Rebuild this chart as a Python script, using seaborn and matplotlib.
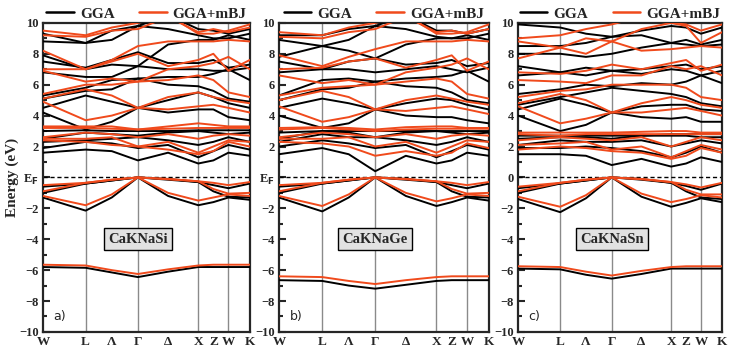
import matplotlib
matplotlib.use("Agg")
import matplotlib.pyplot as plt
from matplotlib.lines import Line2D
from matplotlib.ticker import MultipleLocator
import numpy as np
import pandas as pd
import seaborn as sns

# k-path W-L-Γ-X-W-K (lengths in 2π/a), with Λ, Δ, Z midpoints
k_points = [0.0, 0.707, 1.140, 1.573, 2.073, 2.573, 2.823, 3.073, 3.427]
k_labels = ["W", "L", "Λ", "Γ", "Δ", "X", "Z", "W", "K"]
k_lines = [0.707, 1.573, 2.573, 3.073]

compounds = ["CaKNaSi", "CaKNaGe", "CaKNaSn"]
panel_tags = ["a)", "b)", "c)"]

# ---- CaKNaSi ----
si_gga = [
    [-5.8, -5.85, -6.15, -6.45, -6.1, -5.8, -5.8, -5.8, -5.8],
    [-1.3, -2.15, -1.3, 0.0, -1.2, -1.8, -1.6, -1.3, -1.45],
    [-1.0, -0.4, -0.2, 0.0, -0.15, -0.3, -0.9, -1.25, -1.3],
    [-0.6, -0.4, -0.2, 0.0, -0.1, -0.3, -0.5, -0.7, -0.4],
    [1.6, 1.8, 1.7, 1.1, 1.6, 0.9, 1.1, 1.6, 1.4],
    [1.9, 2.3, 2.2, 1.9, 2.1, 1.3, 1.7, 2.1, 1.8],
    [2.3, 2.4, 2.5, 2.6, 2.4, 2.1, 2.3, 2.6, 2.3],
    [2.5, 2.9, 2.8, 2.7, 2.9, 3.0, 2.9, 2.8, 2.9],
    [3.0, 3.05, 3.0, 3.0, 3.0, 3.05, 3.05, 3.05, 3.05],
    [4.2, 3.1, 3.6, 4.5, 4.2, 4.4, 4.4, 3.9, 3.7],
    [4.5, 5.3, 4.9, 4.5, 5.0, 5.5, 5.2, 4.8, 4.5],
    [5.1, 5.6, 5.7, 6.4, 6.0, 5.9, 5.6, 5.1, 4.9],
    [5.3, 5.8, 6.3, 6.4, 6.5, 6.5, 6.7, 7.0, 6.3],
    [6.8, 6.5, 6.5, 7.2, 7.0, 7.0, 6.9, 6.9, 7.1],
    [7.5, 7.1, 7.6, 8.1, 7.4, 7.4, 7.6, 7.1, 7.3],
    [7.9, 7.0, 7.3, 7.2, 8.6, 8.9, 8.9, 9.2, 8.9],
    [8.8, 8.7, 8.9, 9.8, 9.6, 9.2, 9.0, 9.0, 9.3],
    [9.3, 8.7, 9.5, 9.8, 10.5, 9.6, 9.5, 9.3, 9.6],
]
si_mbj = [
    [-5.65, -5.7, -6.0, -6.25, -5.95, -5.7, -5.65, -5.65, -5.65],
    [-1.2, -1.8, -1.1, 0.0, -1.0, -1.5, -1.3, -1.1, -1.2],
    [-0.9, -0.35, -0.15, 0.0, -0.12, -0.25, -0.75, -1.05, -1.0],
    [-0.5, -0.35, -0.15, 0.0, -0.1, -0.25, -0.35, -0.5, -0.3],
    [2.4, 2.3, 2.1, 2.0, 1.8, 1.5, 1.7, 2.3, 2.0],
    [2.5, 2.5, 2.6, 2.0, 2.3, 1.6, 2.0, 2.4, 2.3],
    [2.6, 2.9, 2.8, 2.6, 2.8, 2.5, 2.7, 2.8, 2.7],
    [3.2, 3.2, 3.15, 3.1, 3.15, 3.2, 3.2, 3.2, 3.2],
    [3.3, 3.3, 3.3, 3.1, 3.3, 3.5, 3.4, 3.3, 3.3],
    [4.9, 3.7, 4.0, 4.5, 4.4, 4.6, 4.7, 4.5, 4.2],
    [5.1, 5.7, 5.3, 4.5, 5.2, 5.5, 5.2, 5.0, 4.8],
    [5.4, 6.0, 6.0, 6.2, 6.3, 6.6, 6.3, 5.5, 5.2],
    [6.9, 6.2, 6.4, 6.2, 7.0, 7.2, 7.4, 7.8, 7.0],
    [7.0, 7.0, 7.5, 8.0, 7.2, 7.6, 8.0, 6.9, 7.6],
    [8.2, 7.0, 7.6, 8.5, 8.8, 8.8, 8.8, 8.9, 8.8],
    [9.2, 9.1, 9.5, 9.6, 10.4, 9.4, 9.6, 9.4, 9.7],
    [9.5, 9.2, 9.7, 10.0, 10.5, 9.3, 9.3, 9.5, 9.9],
]

# ---- CaKNaGe ----
ge_gga = [
    [-6.65, -6.7, -7.0, -7.2, -6.95, -6.7, -6.65, -6.65, -6.65],
    [-1.3, -2.2, -1.3, 0.0, -1.2, -1.85, -1.6, -1.3, -1.5],
    [-1.0, -0.4, -0.2, 0.0, -0.15, -0.3, -0.9, -1.25, -1.3],
    [-0.6, -0.4, -0.2, 0.0, -0.1, -0.3, -0.5, -0.7, -0.4],
    [1.5, 1.9, 1.5, 0.4, 1.4, 0.9, 1.1, 1.6, 1.4],
    [2.0, 2.4, 2.2, 1.9, 2.1, 1.3, 1.7, 2.1, 1.8],
    [2.3, 2.8, 2.6, 2.6, 2.4, 2.1, 2.3, 2.6, 2.3],
    [2.5, 3.0, 2.9, 2.6, 2.9, 3.0, 2.9, 2.8, 2.9],
    [2.9, 3.0, 3.0, 3.0, 3.0, 3.0, 3.0, 3.0, 3.0],
    [4.0, 3.2, 3.5, 4.4, 4.0, 3.9, 3.9, 3.7, 3.5],
    [4.5, 5.1, 4.8, 4.4, 4.8, 5.1, 5.0, 4.7, 4.4],
    [5.0, 5.7, 5.8, 6.2, 5.9, 5.8, 5.5, 5.0, 4.8],
    [5.3, 6.3, 6.4, 6.2, 6.4, 6.5, 6.6, 6.9, 6.2],
    [6.8, 7.0, 7.0, 6.8, 7.0, 7.2, 7.0, 6.8, 7.1],
    [7.5, 7.0, 7.5, 7.7, 7.3, 7.4, 7.6, 7.2, 7.4],
    [7.8, 8.5, 8.2, 7.7, 8.6, 9.0, 9.0, 9.2, 8.9],
    [8.9, 8.5, 8.9, 9.8, 9.6, 9.1, 9.0, 9.0, 9.3],
    [9.2, 9.2, 9.6, 9.8, 10.5, 9.5, 9.5, 9.3, 9.6],
]
ge_mbj = [
    [-6.4, -6.45, -6.7, -6.9, -6.65, -6.45, -6.4, -6.4, -6.4],
    [-1.2, -1.85, -1.1, 0.0, -1.0, -1.55, -1.35, -1.1, -1.2],
    [-0.9, -0.35, -0.15, 0.0, -0.12, -0.25, -0.75, -1.05, -1.0],
    [-0.5, -0.35, -0.15, 0.0, -0.1, -0.25, -0.35, -0.5, -0.3],
    [2.3, 2.2, 2.0, 1.4, 1.7, 1.4, 1.6, 2.2, 1.9],
    [2.5, 2.5, 2.6, 2.0, 2.3, 1.6, 2.0, 2.4, 2.3],
    [2.6, 2.9, 2.8, 2.6, 2.8, 2.5, 2.7, 2.8, 2.7],
    [3.1, 3.2, 3.1, 3.0, 3.1, 3.15, 3.15, 3.15, 3.15],
    [3.2, 3.25, 3.2, 3.1, 3.25, 3.3, 3.3, 3.2, 3.2],
    [4.6, 3.6, 3.9, 4.4, 4.3, 4.5, 4.6, 4.4, 4.1],
    [5.0, 5.6, 5.2, 4.4, 5.0, 5.3, 5.1, 4.9, 4.7],
    [5.3, 5.8, 5.9, 6.0, 6.2, 6.4, 6.2, 5.4, 5.1],
    [6.6, 6.1, 6.3, 6.0, 6.8, 7.1, 7.3, 7.7, 7.0],
    [7.0, 7.1, 7.5, 7.7, 7.1, 7.6, 7.9, 6.9, 7.5],
    [7.9, 7.2, 7.8, 8.3, 8.8, 8.8, 8.8, 8.9, 8.8],
    [9.1, 9.0, 9.4, 9.6, 10.4, 9.4, 9.5, 9.3, 9.6],
    [9.4, 9.2, 9.7, 10.0, 10.5, 9.3, 9.3, 9.4, 9.9],
]

# ---- CaKNaSn ----
sn_gga = [
    [-5.9, -5.95, -6.3, -6.55, -6.25, -5.9, -5.9, -5.9, -5.9],
    [-1.4, -2.25, -1.35, 0.0, -1.25, -1.9, -1.65, -1.35, -1.6],
    [-1.0, -0.4, -0.2, 0.0, -0.15, -0.35, -0.9, -1.3, -1.4],
    [-0.7, -0.4, -0.2, 0.0, -0.1, -0.35, -0.55, -0.8, -0.4],
    [1.5, 1.5, 1.4, 0.8, 1.2, 0.7, 0.9, 1.3, 1.0],
    [1.9, 1.9, 2.0, 1.9, 1.7, 1.3, 1.6, 2.0, 1.6],
    [2.1, 2.4, 2.3, 2.3, 2.4, 2.0, 2.2, 2.4, 2.2],
    [2.5, 2.6, 2.6, 2.5, 2.7, 2.7, 2.7, 2.6, 2.6],
    [2.7, 2.7, 2.7, 2.7, 2.7, 2.8, 2.8, 2.8, 2.8],
    [4.0, 3.0, 3.4, 4.2, 3.9, 3.8, 3.9, 3.6, 3.6],
    [4.4, 5.1, 4.7, 4.2, 4.6, 4.7, 4.7, 4.4, 4.3],
    [4.7, 5.2, 5.5, 5.8, 5.6, 5.4, 5.2, 4.8, 4.6],
    [5.4, 5.7, 6.0, 5.9, 6.1, 6.0, 6.2, 6.6, 6.1],
    [6.6, 6.8, 6.6, 6.9, 6.7, 7.0, 6.9, 6.6, 6.9],
    [7.2, 6.8, 7.1, 6.9, 7.0, 7.2, 7.3, 7.0, 7.2],
    [8.0, 8.0, 7.8, 8.0, 8.4, 8.7, 8.6, 8.5, 8.6],
    [8.5, 8.5, 8.7, 9.1, 9.2, 8.7, 8.9, 8.6, 8.9],
    [9.9, 9.7, 9.3, 9.1, 9.5, 9.8, 9.7, 9.3, 9.7],
]
sn_mbj = [
    [-5.75, -5.8, -6.1, -6.35, -6.05, -5.8, -5.75, -5.75, -5.75],
    [-1.25, -1.9, -1.15, 0.0, -1.05, -1.6, -1.4, -1.15, -1.3],
    [-0.9, -0.35, -0.15, 0.0, -0.12, -0.3, -0.8, -1.1, -1.1],
    [-0.6, -0.35, -0.15, 0.0, -0.1, -0.3, -0.45, -0.65, -0.35],
    [1.8, 2.0, 1.9, 1.7, 1.6, 1.2, 1.4, 1.9, 1.6],
    [2.1, 2.2, 2.3, 1.8, 2.0, 1.3, 1.7, 2.1, 1.8],
    [2.4, 2.6, 2.5, 2.4, 2.6, 2.0, 2.3, 2.6, 2.4],
    [2.8, 2.7, 2.8, 2.8, 2.8, 2.8, 2.8, 2.8, 2.8],
    [2.9, 2.9, 2.9, 2.9, 2.95, 3.0, 3.0, 2.9, 2.9],
    [4.6, 3.5, 3.8, 4.2, 4.2, 4.4, 4.5, 4.3, 4.0],
    [4.8, 5.4, 5.0, 4.2, 4.8, 5.2, 5.0, 4.7, 4.5],
    [5.2, 5.6, 5.7, 6.0, 6.0, 6.0, 5.8, 5.2, 5.0],
    [6.3, 6.2, 6.1, 6.6, 6.6, 7.2, 7.0, 7.2, 6.6],
    [6.8, 6.7, 6.9, 7.3, 7.0, 7.4, 7.6, 6.9, 7.3],
    [7.7, 8.4, 8.0, 8.8, 8.2, 8.3, 8.4, 8.5, 8.4],
    [8.8, 8.4, 9.0, 8.8, 9.6, 10.0, 9.8, 8.7, 9.4],
    [9.0, 9.2, 9.6, 9.9, 10.4, 10.0, 9.9, 9.5, 9.9],
]

gga_sets = [si_gga, ge_gga, sn_gga]
mbj_sets = [si_mbj, ge_mbj, sn_mbj]

gga_color = "black"
mbj_color = "#f04a1c"


def band_frame(bands, method):
    rows = []
    for b, energies in enumerate(bands):
        for k, e in zip(k_points, energies):
            rows.append({"band": b, "k": k, "E": e, "method": method})
    return pd.DataFrame(rows)


sns.set_style("ticks")
plt.rcParams["font.family"] = ["Liberation Serif", "DejaVu Serif"]

fig = plt.figure(figsize=(7.36, 3.52), dpi=100)
lefts = [0.0584, 0.379, 0.704]
widths = [0.281, 0.285, 0.277]

for i in range(3):
    ax = fig.add_axes([lefts[i], 0.057, widths[i], 0.878])
    df = pd.concat([band_frame(gga_sets[i], "GGA"), band_frame(mbj_sets[i], "GGA+mBJ")])

    for x in k_lines:
        ax.axvline(x, color="#8a8a8a", lw=1.0, zorder=1)
    ax.axhline(0, color="black", lw=1.0, ls=(0, (3, 2)), zorder=1)

    sns.lineplot(data=df, x="k", y="E", hue="method", units="band", estimator=None,
                 palette={"GGA": gga_color, "GGA+mBJ": mbj_color}, linewidth=1.4,
                 sort=False, legend=False, ax=ax, zorder=3)

    ax.set_xlim(k_points[0], k_points[-1])
    ax.set_ylim(-10, 10)
    ax.set_xlabel("")
    ax.set_ylabel("")

    ax.set_xticks(k_points)
    ax.set_xticklabels(k_labels, fontsize=9.5, fontweight="bold")
    ax.tick_params(axis="x", length=0, pad=3)

    yt = list(range(-10, 11, 2))
    ax.set_yticks(yt)
    ylabels = [str(v).replace("-", "\u2212") for v in yt]
    if i < 2:
        ylabels[5] = r"E$_\mathbf{F}$"
    ax.set_yticklabels(ylabels, fontsize=9, fontweight="bold")
    ax.yaxis.set_minor_locator(MultipleLocator(1))
    ax.tick_params(axis="y", which="major", direction="in", length=5, width=1.5, pad=3)
    ax.tick_params(axis="y", which="minor", direction="in", length=3, width=1.5)

    for s in ax.spines.values():
        s.set_linewidth(1.6)
        s.set_visible(True)

    ax.text(k_points[3], -4, compounds[i], ha="center", va="center", fontsize=10.5,
            fontweight="bold", zorder=5,
            bbox=dict(boxstyle="square,pad=0.3", fc="#e2e2e2", ec="black", lw=1.0))
    ax.text(0.05, 0.03, panel_tags[i], transform=ax.transAxes, fontsize=9,
            family="DejaVu Sans", ha="left", va="bottom")

    handles = [Line2D([], [], color=gga_color, lw=1.8),
               Line2D([], [], color=mbj_color, lw=1.8)]
    ax.legend(handles, ["GGA", "GGA+mBJ"], ncol=2, loc="lower center",
              bbox_to_anchor=(0.5, 1.0), frameon=False, borderaxespad=0.0,
              borderpad=0.15, handlelength=1.8, columnspacing=1.6, handletextpad=0.4,
              prop={"weight": "bold", "size": 11})

    if i == 0:
        ax.set_ylabel("Energy (eV)", fontsize=11, fontweight="bold", labelpad=0)

fig.savefig("out.png", dpi=100)
